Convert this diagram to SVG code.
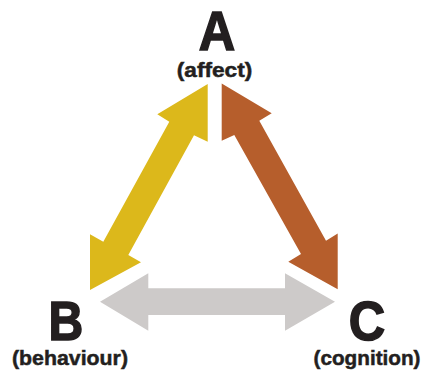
<svg xmlns="http://www.w3.org/2000/svg" width="425" height="373" viewBox="0 0 425 373">
<style>
.big{font-family:"Liberation Sans",Arial,sans-serif;font-weight:bold;font-size:56px;fill:#231f20;stroke:#231f20;stroke-width:1.6;text-anchor:middle}
.sub{font-family:"Liberation Sans",Arial,sans-serif;font-weight:bold;font-size:21px;fill:#231f20;stroke:#231f20;stroke-width:0.5;text-anchor:middle}
</style>
<rect width="425" height="373" fill="#ffffff"/>
<g id="connectors">
<polygon id="ab" fill="#dcb81b" points="207.7,84 207.7,141.7 194,135.3 128.3,255 141,262.3 90,290 90,234.3 103.3,241.7 169.3,121.7 157.3,114.3"/>
<polygon id="ac" fill="#b65e2c" points="221.7,83.5 271.7,113.3 259.3,120.7 326,240.7 337.7,233.5 337.7,289.3 288.3,261.7 301,254 234.3,135 221.7,140.7"/>
<polygon id="bc" fill="#cdcac9" points="100,301.7 148.3,273.3 148.3,288.3 285,288.3 285,273.3 335,301.7 285,330.7 285,315 148.3,315 148.3,330.7"/>
</g>
<g id="node-a">
<text class="big" transform="translate(217,50) scale(0.9,1)">A</text>
<text class="sub" x="214.5" y="76.5" textLength="75.5" lengthAdjust="spacingAndGlyphs">(affect)</text>
</g>
<g id="node-b">
<text class="big" transform="translate(66,339.5) scale(0.86,1)">B</text>
<text class="sub" x="70" y="365" textLength="116" lengthAdjust="spacingAndGlyphs">(behaviour)</text>
</g>
<g id="node-c">
<text class="big" transform="translate(367,339.5) scale(0.9,1)">C</text>
<text class="sub" x="367" y="365" textLength="107" lengthAdjust="spacingAndGlyphs">(cognition)</text>
</g>
</svg>
